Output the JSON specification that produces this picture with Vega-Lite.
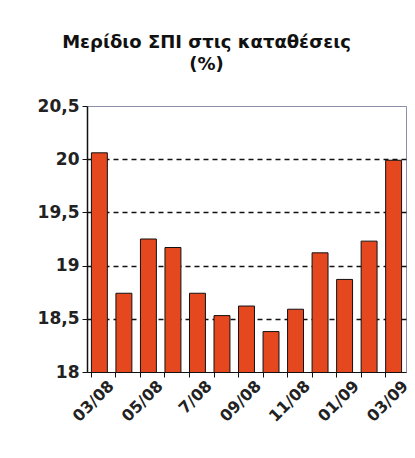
{
  "$schema": "https://vega.github.io/schema/vega-lite/v6.json",
  "autosize": "none",
  "width": 319,
  "height": 266,
  "padding": {"left": 87, "top": 106, "right": 9, "bottom": 86},
  "background": "white",
  "title": {
    "text": ["Μερίδιο ΣΠΙ στις καταθέσεις", "(%)"],
    "font": "DejaVu Sans",
    "fontSize": 18,
    "fontWeight": "bold",
    "color": "#111",
    "anchor": "middle",
    "frame": "group",
    "dx": -40,
    "offset": 23,
    "lineHeight": 22
  },
  "data": {
    "values": [
      {"month": "03/08", "value": 20.06},
      {"month": "04/08", "value": 18.74},
      {"month": "05/08", "value": 19.25},
      {"month": "06/08", "value": 19.17},
      {"month": "7/08", "value": 18.74},
      {"month": "08/08", "value": 18.53},
      {"month": "09/08", "value": 18.62},
      {"month": "10/08", "value": 18.38},
      {"month": "11/08", "value": 18.59},
      {"month": "12/08", "value": 19.12},
      {"month": "01/09", "value": 18.87},
      {"month": "02/09", "value": 19.23},
      {"month": "03/09", "value": 19.99}
    ]
  },
  "config": {
    "view": {"stroke": "#8a90a8", "strokeWidth": 1},
    "axisX": {"labelAngle": -45}
  },
  "encoding": {
    "x": {
      "field": "month",
      "type": "nominal",
      "sort": null,
      "scale": {"paddingInner": 0.35, "paddingOuter": 0.18},
      "axis": {
        "title": null,
        "labelAngle": -45,
        "labelAlign": "right",
        "labelBaseline": "middle",
        "labelFont": "DejaVu Sans",
        "labelFontSize": 16,
        "labelFontWeight": "bold",
        "labelColor": "#222",
        "labelExpr": "indexof(['03/08','05/08','7/08','09/08','11/08','01/09','03/09'], datum.value) >= 0 ? datum.value : ''",
        "bandPosition": 0,
        "labelOffset": 12,
        "tickColor": "#111",
        "tickSize": 5,
        "domainColor": "#111",
        "labelPadding": 6,
        "grid": false,
        "encode": {
          "labels": {
            "update": {
              "angle": {"value": -45},
              "align": {"value": "right"},
              "baseline": {"value": "middle"}
            }
          }
        }
      }
    }
  },
  "layer": [
    {
      "mark": {"type": "bar", "opacity": 0, "clip": true},
      "encoding": {
        "y": {
          "field": "value",
          "type": "quantitative",
          "scale": {"domain": [18, 20.5], "zero": false, "nice": false},
          "axis": {
            "orient": "right",
            "title": null,
            "values": [18.5, 19, 19.5, 20],
            "labels": false,
            "ticks": false,
            "domain": false,
            "grid": true,
            "gridColor": "#111",
            "gridDash": [5, 4],
            "gridWidth": 1.5
          }
        }
      }
    },
    {
      "mark": {"type": "bar", "color": "#E5481F", "stroke": "#111", "strokeWidth": 1, "clip": true},
      "encoding": {
        "y": {
          "field": "value",
          "type": "quantitative",
          "scale": {"domain": [18, 20.5], "zero": false, "nice": false},
          "axis": {
            "orient": "left",
            "title": null,
            "values": [18, 18.5, 19, 19.5, 20, 20.5],
            "labelExpr": "replace(format(datum.value, ''), '.', ',')",
            "labelFont": "DejaVu Sans",
            "labelFontSize": 17,
            "labelFontWeight": "bold",
            "labelColor": "#222",
            "tickColor": "#111",
            "tickSize": 5,
            "domainColor": "#111",
            "domainWidth": 1.5,
            "labelPadding": 3,
            "grid": false
          }
        }
      }
    }
  ],
  "resolve": {"axis": {"y": "independent"}}
}
